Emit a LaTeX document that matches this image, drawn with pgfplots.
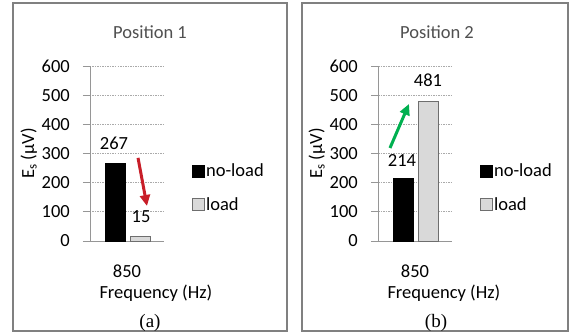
\documentclass[border=0pt]{standalone}
\usepackage{fontspec}
\setmainfont{Carlito}
\newfontfamily\timesfont{Liberation Serif}
\usepackage{pgfplots}
\pgfplotsset{compat=1.18}
\usetikzlibrary{arrows.meta}
\definecolor{gridc}{RGB}{170,170,170}
\definecolor{axisc}{RGB}{150,150,150}
\definecolor{framec}{RGB}{128,128,128}
\definecolor{titlec}{RGB}{80,80,80}
\definecolor{loadc}{RGB}{217,217,217}
\definecolor{loadedge}{RGB}{110,110,110}
\definecolor{arrred}{RGB}{200,30,40}
\definecolor{arrgreen}{RGB}{0,176,80}
\newcommand\fs{\fontsize{18.5}{22}\selectfont}
\pgfplotsset{
  panel/.style={
    scale only axis, width=74pt, height=175pt, anchor=south west,
    xmin=-0.5, xmax=0.5, ymin=0, ymax=600,
    axis x line=bottom, axis y line=left,
    axis line style={-, draw=axisc, line width=0.8pt},
    ytick={0,100,...,600}, xtick={0}, xticklabels={850},
    ymajorgrids, grid style={gridc, dash pattern=on 1.5pt off 1pt, line width=0.8pt},
    ytick align=outside, major tick length=7pt,
    y tick style={draw=axisc, line width=0.8pt},
    x tick style={draw=none},
    tick label style={font=\fs, text=black},
    /pgf/number format/assume math mode=true,
    yticklabel style={anchor=east, inner sep=0pt, xshift=-13pt},
    xticklabel style={anchor=north, inner sep=0pt, yshift=-20pt},
    title style={font=\fs, text=titlec, anchor=center},
    xlabel={Frequency (Hz)},
    xlabel style={font=\fs, at={(axis description cs:0.89,-0.326)}, anchor=base},
    ylabel={E\textsubscript{s} (µV)},
    ylabel style={font=\fs, at={(axis description cs:-0.756,0.5)}, anchor=base},
    legend style={draw=none, fill=none, font=\fs, anchor=west,
      row sep=16pt, inner sep=0pt, nodes={inner sep=1.5pt}},
    legend cell align=left,
    every node near coord/.append style={font=\fs, anchor=base, inner sep=0pt, yshift=14pt},
    clip=false,
  },
  sqlegend/.style={legend image code/.code={\draw[##1] (0pt,-6pt) rectangle (12pt,6pt);}},
}
\begin{document}
\begin{tikzpicture}[x=1pt,y=1pt]
\path[use as bounding box] (0,0) rectangle (571,333);
\fill[white] (0,0) rectangle (571,333);
\draw[framec, line width=1.3pt] (13,2) rectangle (287,330);
\draw[framec, line width=1.3pt] (302,2) rectangle (568,330);

\begin{axis}[panel, at={(90pt,92pt)}, title={Position 1},
  title style={at={(axis description cs:0.811,1.16)}},
  legend style={at={(axis description cs:1.378,0.303)}}]
\addplot[ybar, bar width=20pt, bar shift=-12pt, fill=black, draw=black, sqlegend,
  nodes near coords, every node near coord/.append style={xshift=-13pt}] coordinates {(0,267)};
\addlegendentry{no-load}
\addplot[ybar, bar width=20pt, bar shift=13pt, fill=loadc, draw=loadedge, sqlegend,
  nodes near coords, every node near coord/.append style={xshift=14pt}] coordinates {(0,15)};
\addlegendentry{load}
\draw[arrred, line width=3pt, -{Triangle[width=10pt,length=11pt]}]
  (axis cs:0.149,285) -- (axis cs:0.270,120);
\end{axis}

\begin{axis}[panel, at={(378pt,92pt)}, title={Position 2},
  title style={at={(axis description cs:0.797,1.16)}},
  legend style={at={(axis description cs:1.378,0.303)}}]
\addplot[ybar, bar width=20pt, bar shift=-12pt, fill=black, draw=black, sqlegend,
  nodes near coords, every node near coord/.append style={xshift=-13pt, yshift=-2pt}] coordinates {(0,214)};
\addlegendentry{no-load}
\addplot[ybar, bar width=20pt, bar shift=13pt, fill=loadc, draw=loadedge, sqlegend,
  nodes near coords, every node near coord/.append style={xshift=13pt}] coordinates {(0,481)};
\addlegendentry{load}
\draw[arrgreen, line width=3pt, -{Triangle[width=10pt,length=11pt]}]
  (axis cs:-0.338,319) -- (axis cs:-0.081,470);
\end{axis}

\node[font=\timesfont\fontsize{19}{22}\selectfont, anchor=base] at (150,6) {(a)};
\node[font=\timesfont\fontsize{19}{22}\selectfont, anchor=base] at (436,6) {(b)};
\end{tikzpicture}
\end{document}
